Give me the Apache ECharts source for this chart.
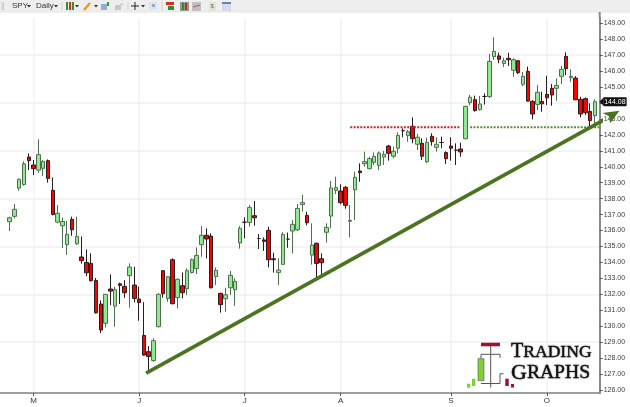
<!DOCTYPE html>
<html><head><meta charset="utf-8">
<style>html,body{margin:0;padding:0;background:#fff}#c{width:630px;height:407px}</style>
<script src="https://cdn.jsdelivr.net/npm/echarts@6/dist/echarts.min.js"></script>
</head><body><div id="c"></div>
<script>
const opens=[136.55,136.89,138.66,138.89,140.61,140.11,139.79,139.90,140.38,138.52,136.53,136.30,135.11,136.70,135.17,134.34,134.00,133.94,132.87,131.39,130.18,132.33,131.26,132.66,132.50,133.17,132.58,131.70,129.42,128.40,127.85,129.97,133.48,131.74,134.17,131.79,132.54,132.35,133.37,133.61,135.11,135.70,135.65,133.12,132.06,131.72,132.41,132.29,135.22,136.52,136.51,136.93,135.50,135.41,136.01,134.23,133.36,133.88,135.46,135.97,136.05,137.64,136.95,134.46,135.20,134.23,135.89,136.91,138.52,138.48,138.71,136.58,138.56,139.73,140.19,139.88,140.28,140.09,140.61,141.30,140.66,141.16,142.26,141.95,142.54,141.41,141.47,140.32,141.91,141.22,141.52,140.89,141.30,141.04,141.11,141.76,144.02,144.21,143.58,144.41,144.40,146.91,146.95,146.48,146.80,146.05,146.65,145.17,145.98,144.10,143.91,144.10,144.54,144.92,144.92,145.67,146.92,145.59,145.56,144.23,144.27,143.47,143.20];
const closes=[136.80,137.33,139.21,140.19,140.38,139.88,140.76,140.34,139.27,137.01,137.08,136.57,135.76,136.05,135.63,134.11,133.35,132.85,130.84,129.76,132.00,132.20,132.29,132.56,132.10,133.71,131.74,131.49,128.19,128.10,129.09,132.00,132.04,133.10,131.41,132.94,132.10,133.48,134.17,134.44,135.70,135.47,132.41,133.50,131.35,131.97,133.19,132.81,136.14,136.52,137.45,136.80,135.50,135.32,134.17,134.17,133.52,135.76,135.46,136.39,137.39,137.75,136.49,135.09,133.94,133.98,136.20,138.67,138.69,137.75,137.58,136.64,139.34,139.63,140.32,140.51,140.65,140.86,140.78,140.84,140.97,141.97,142.26,142.20,141.76,141.85,140.66,141.53,141.58,141.41,141.52,140.51,141.16,141.04,140.93,143.79,144.36,143.52,143.94,144.41,146.61,147.24,146.74,146.65,146.71,146.71,145.90,145.67,144.12,143.31,144.67,143.95,144.33,144.50,145.10,146.11,146.15,145.67,144.20,143.31,143.39,142.89,144.08];
const lows=[135.97,136.76,138.50,138.81,139.79,139.48,139.63,139.42,139.00,136.95,136.45,134.90,134.48,135.67,135.09,133.92,133.14,132.81,130.80,129.57,129.92,131.32,129.97,131.39,131.78,131.16,131.49,130.34,128.15,127.14,127.77,129.92,131.79,131.53,131.37,131.12,131.74,131.95,133.31,133.27,134.36,134.25,132.37,132.58,130.85,130.91,131.95,131.28,134.86,135.51,136.24,136.30,134.84,134.72,133.69,133.36,132.58,133.84,134.92,134.57,135.97,137.18,136.33,133.86,133.06,133.21,135.24,136.14,138.29,137.64,137.37,135.57,136.66,139.06,140.00,139.84,140.11,139.80,140.11,140.38,140.53,140.84,141.85,141.57,141.47,141.05,140.43,140.22,141.32,140.95,141.16,140.17,140.38,140.11,140.63,141.72,143.88,143.46,143.52,143.90,144.31,146.70,146.49,146.25,146.32,145.65,145.82,145.06,144.08,142.97,143.56,143.45,143.87,143.83,144.14,145.19,145.75,145.33,144.18,143.10,143.24,142.51,142.62];
const highs=[136.87,137.66,139.27,140.34,140.84,140.42,141.72,140.42,140.46,139.33,137.60,136.82,136.60,136.87,136.87,135.63,134.82,134.57,133.02,131.62,132.02,133.25,132.48,132.73,132.89,133.94,133.73,132.48,131.51,128.75,129.25,132.06,133.52,133.15,134.25,133.00,133.37,133.63,134.25,134.94,136.28,136.14,135.82,133.69,132.10,132.41,133.46,133.00,136.28,136.83,137.60,137.85,135.78,135.57,136.24,134.61,134.26,135.89,135.87,136.66,137.66,138.23,137.18,136.45,135.24,134.57,136.45,139.11,139.38,138.90,138.79,137.60,139.69,140.21,140.95,140.63,140.90,140.95,140.99,141.37,141.26,142.16,142.41,142.31,143.10,142.06,141.78,141.83,142.10,141.85,141.89,140.97,141.85,141.47,141.51,143.83,144.50,144.46,144.44,144.61,147.07,148.12,147.16,146.84,147.15,146.80,146.69,145.94,146.28,144.18,145.13,144.71,145.71,145.19,145.54,146.32,147.17,146.11,145.69,144.39,144.35,143.98,144.23];
const monthLabels=['M','J','J','A','S','O'];
const monthCandles=[5,27,49,69,92,112];
const priceTicks=[126,127,128,129,130,131,132,133,134,135,136,137,138,139,140,141,142,143,144,145,146,147,148,149];
const labelTicks=priceTicks.filter(v=>v!==144);
const gridTicks=[129,132,135,138,141,144,147];
const lastPrice=[144.08];
const redLevel=142.48, redRange=[71,94];
const greenLevel=142.48, greenRange=[96,123];
const trendFrom=[28.47,127.06], trendTo=[125.56,143.22], trendHead=[125.35,143.12];
const tagPointer=[123.35,144.08];

const lead=2, trail=1;
const categories=[];
for(let j=0;j<opens.length+lead+trail;j++){
  const m=monthCandles.indexOf(j-lead);
  categories.push(m>=0?monthLabels[m]:'');
}
const pad=v=>{const a=[];for(let k=0;k<lead;k++)a.push('-');return a.concat(v,['-']);};
const candles=pad(opens.map((o,i)=>[o,closes[i],lows[i],highs[i]]));
const isMonth=(idx,val)=>val!=='';
const Z=50;
const rect=(x,y,w,h,fill,z)=>({type:'rect',silent:true,z:z||Z,shape:{x,y,width:w,height:h},style:{fill}});
const ln=(x1,y1,x2,y2,stroke,lw,z)=>({type:'line',silent:true,z:z||Z,shape:{x1,y1,x2,y2},style:{stroke,lineWidth:lw||1}});
const txt=(x,y,t,size,fill)=>({type:'text',silent:true,z:Z+1,x,y,style:{text:t,font:size+'px "Liberation Sans"',fill,textVerticalAlign:'middle'}});
const tri=(x,y)=>({type:'polygon',silent:true,z:Z+1,shape:{points:[[x,y],[x+4,y],[x+2,y+2.5]]},style:{fill:'#333'}});
const toolbar=[
  rect(0,0,630,12,'#eeeeee'),
  ln(0,12,630,12,'#e4e4e4',1),
  ln(2,2,2,10,'#c8c8c8',1),ln(3.5,2,3.5,10,'#c8c8c8',1),
  txt(12,6,'SPY',8,'#333'),tri(27,5),
  txt(36,6,'Daily',8,'#333'),tri(54,5),
  ln(62,2,62,10,'#d0d0d0',1),
  rect(66,2,2,8,'#3f8a2a'),rect(69,2,2,8,'#d03020'),rect(72,2,2,8,'#3f8a2a'),tri(75,5),
  ln(84,10,90,3,'#e0a020',2.5),tri(94,5),
  rect(101,4,6,6,'#8fb0c8'),rect(107,2,2,4,'#30a030'),
  rect(115,5,6,5,'#c8c8c8'),rect(120,3,3,3,'#d8d8d8'),
  ln(128,2,128,10,'#d0d0d0',1),
  ln(131,6,139,6,'#222',1),ln(135,2,135,10,'#222',1),tri(141,5),
  rect(149,2,8,8,'#dfe4ea'),rect(152,4,3,3,'#8fb0c8'),
  ln(162,2,162,10,'#d0d0d0',1),
  rect(166,2,8,3,'#d03020'),rect(168,6,6,4,'#3f8a2a'),
  rect(180,2,9,9,'#8f9a8f'),rect(182,3,2,7,'#2f8a2a'),rect(185,3,2,7,'#c03020'),
  rect(192,2,9,9,'#c0c0c0'),ln(193,7,200,5,'#c05050',1),
  rect(209,2,7,9,'#e4e4dc'),txt(210.5,6.5,'$',6,'#3a8a2a'),
  rect(222,2,9,9,'#d8d8e8'),rect(222,2,9,2,'#6080c0')
];
const logoInk={fill:'#111',stroke:'#111',lineWidth:0.4,textShadowColor:'rgba(0,0,0,0.35)',textShadowBlur:2};
const logo=[
  rect(467,383.7,3.3,4,'#7fcf3a'),
  rect(472,378.7,3.3,7.3,'#7fcf3a'),
  rect(478,358.7,6,22,'#7fcf3a'),
  ln(478,358.7,484,358.7,'#555',.6),ln(484,358.7,484,380.7,'#555',.6),ln(478,358.7,478,380.7,'#555',.6),ln(478,380.7,484,380.7,'#555',.6),
  rect(481,342.7,19,3.6,'#9a1528'),
  ln(490.7,346,490.7,387.5,'#555',1),
  ln(481,354.3,500,354.3,'#555',1),ln(481,354.3,481,358.5,'#555',1),ln(500,354.3,500,358,'#555',1),
  ln(481,383.5,500,383.5,'#555',1),ln(500,373.8,500,383.5,'#555',1),ln(500,373.8,503.5,373.8,'#555',1),
  rect(505.3,378.7,3.4,7.3,'#9a1528'),
  rect(511,384,3,3.5,'#9a1528'),
  {type:'text',silent:true,z:Z+1,x:511,y:352,style:{rich:{a:Object.assign({font:'20px "Liberation Serif"'},logoInk),b:Object.assign({font:'17.6px "Liberation Serif"'},logoInk)},text:'{a|T}{b|RADING}',textVerticalAlign:'middle'}},
  {type:'text',silent:true,z:Z+1,x:511,y:373,style:{rich:{a:Object.assign({font:'22px "Liberation Serif"'},logoInk),b:Object.assign({font:'19.6px "Liberation Serif"'},logoInk)},text:'{a|G}{b|RAPHS}',textVerticalAlign:'middle'}}
];
const axisCommon={position:'right',min:125.81,max:149.33,type:'value',scale:true};
const option={
  animation:false,
  backgroundColor:'#ffffff',
  grid:{left:-0.27,width:600,top:18,bottom:14,containLabel:false},
  xAxis:[
   {type:'category',data:categories,boundaryGap:false,
    axisLine:{lineStyle:{color:'#7f7f7f',width:1.5}},
    axisTick:{show:true,interval:isMonth,length:3,lineStyle:{color:'#555'}},
    axisLabel:{show:true,interval:isMonth,color:'#333',fontSize:8,fontFamily:'Liberation Sans',margin:4},
    splitLine:{show:true,interval:isMonth,lineStyle:{color:'#f0f0f0',width:1.5}}},
   {type:'value',min:-lead,max:opens.length-1+trail,show:false,splitLine:{show:false}}
  ],
  yAxis:[
   Object.assign({},axisCommon,{
    axisLine:{show:true,onZero:false,lineStyle:{color:'#8a8a8a',width:2}},
    axisTick:{show:true,length:3,customValues:priceTicks,lineStyle:{color:'#555'}},
    axisLabel:{show:true,customValues:labelTicks,margin:4,color:'#3a3a3a',fontSize:7,fontFamily:'Liberation Sans',formatter:v=>v.toFixed(2)},
    splitLine:{show:false}}),
   Object.assign({},axisCommon,{
    axisLine:{show:false},axisLabel:{show:false},
    axisTick:{show:false,customValues:gridTicks},
    splitLine:{show:true,lineStyle:{color:'#f0f0f0',width:1.5}}}),
   Object.assign({},axisCommon,{
    axisLine:{show:false},
    axisTick:{show:false,customValues:lastPrice},
    axisLabel:{show:true,customValues:lastPrice,margin:3.5,color:'#ffffff',fontSize:7,fontFamily:'Liberation Sans',formatter:v=>v.toFixed(2),backgroundColor:'#111111',borderRadius:1,padding:[1,1,1,1]},
    splitLine:{show:false}})
  ],
  series:[
   {name:'SPY',type:'candlestick',xAxisIndex:0,yAxisIndex:0,data:candles,barWidth:4,
    itemStyle:{color:'#90e890',color0:'#ff0000',borderColor:'#4f6f4f',borderColor0:'#2a1c1c',borderColorDoji:'#222222',borderWidth:1}},
   {type:'line',xAxisIndex:1,yAxisIndex:0,showSymbol:false,silent:true,z:4,
    data:[[redRange[0],redLevel],[redRange[1],redLevel]],lineStyle:{color:'#d4202c',width:2,type:[2,1.35]}},
   {type:'line',xAxisIndex:1,yAxisIndex:0,showSymbol:false,silent:true,z:4,
    data:[[greenRange[0],greenLevel],[greenRange[1],greenLevel]],lineStyle:{color:'#5d8c3c',width:2,type:[2,1.35]}},
   {type:'line',xAxisIndex:1,yAxisIndex:0,clip:false,silent:true,z:20,showSymbol:false,
    data:[trendFrom,trendTo],
    lineStyle:{color:'#4a7420',width:3.6}},
   {type:'scatter',xAxisIndex:1,yAxisIndex:0,clip:false,silent:true,z:21,
    data:[trendHead],symbol:'path://M17 0 L0 2.4 L6.5 5.5 L7.6 12.6 Z',symbolSize:[17,12.6],symbolKeepAspect:false,
    itemStyle:{color:'#4a7420',opacity:1}},
   {type:'scatter',xAxisIndex:1,yAxisIndex:0,clip:false,silent:true,z:21,
    data:[tagPointer],symbol:'path://M4 0 L0 4 L4 8 Z',symbolSize:[4,8],symbolKeepAspect:false,
    itemStyle:{color:'#111111',opacity:1}}
  ],
  graphic:{elements:toolbar.concat(logo,[ln(599.7,12,599.7,18,'#8a8a8a',2)])}
};
const chart=echarts.init(document.getElementById('c'),null,{renderer:'canvas'});
chart.setOption(option);
</script></body></html>
